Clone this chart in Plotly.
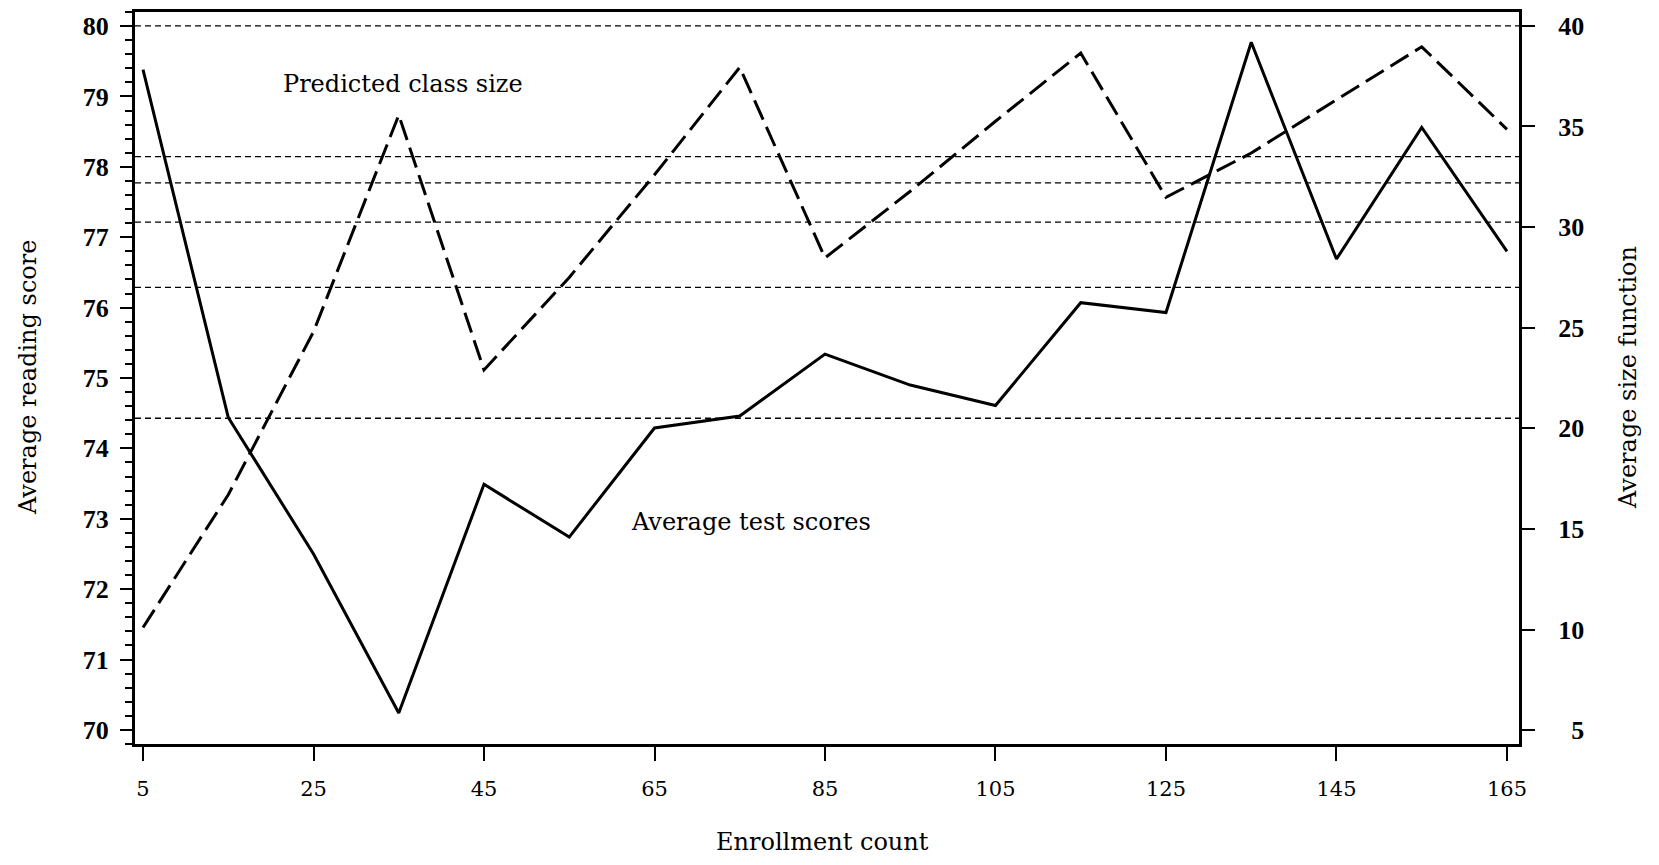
import plotly.graph_objects as go

# Data
enrollment = [5, 15, 25, 35, 45, 55, 65, 75, 85, 95, 105, 115, 125, 135, 145, 155, 165]
avg_test_scores = [79.38, 74.44, 72.5, 70.24, 73.49, 72.74, 74.29, 74.46, 75.34,
                   74.9, 74.61, 76.07, 75.93, 79.77, 76.69, 78.56, 76.8]
predicted_class_size = [10.1, 16.7, 24.8, 35.57, 22.9, 27.5, 32.6, 37.94, 28.47,
                        31.78, 35.26, 38.65, 31.48, 33.68, 36.33, 38.96, 34.86]
# horizontal dashed reference lines (right-axis units)
reference_lines = [40, 33.5, 32.2, 30.25, 27.0, 20.5]

x_ticks = [5, 25, 45, 65, 85, 105, 125, 145, 165]
left_ticks = [70, 71, 72, 73, 74, 75, 76, 77, 78, 79, 80]
right_ticks = [5, 10, 15, 20, 25, 30, 35, 40]
right_ticktext = ["\u2007" + str(v) if v < 10 else str(v) for v in right_ticks]

FONT = "DejaVu Serif"
TFONT = "Liberation Serif"

fig = go.Figure()

fig.add_trace(go.Scatter(
    x=enrollment, y=avg_test_scores, mode="lines", name="Average test scores",
    line=dict(color="black", width=3), yaxis="y", showlegend=False,
))
fig.add_trace(go.Scatter(
    x=enrollment, y=predicted_class_size, mode="lines", name="Predicted class size",
    line=dict(color="black", width=3, dash="21px,8px"), yaxis="y2", showlegend=False,
))

for v in reference_lines:
    fig.add_shape(type="line", xref="paper", x0=0, x1=1, yref="y2", y0=v, y1=v,
                  line=dict(color="black", width=1.3, dash="6px,4px"), layer="below")

fig.update_layout(
    width=1643, height=849, autosize=False,
    margin=dict(l=127, r=132, t=1, b=113),
    paper_bgcolor="white", plot_bgcolor="white",
    font=dict(family=FONT, color="black"),
    xaxis=dict(
        range=[4.06, 166.41], tickvals=x_ticks, ticks="outside", ticklen=14, tickwidth=2,
        tickcolor="black", showline=True, linewidth=3, linecolor="black", mirror=True,
        showgrid=False, zeroline=False, tickfont=dict(family=FONT, size=21),
        ticklabelstandoff=10,
    ),
    yaxis=dict(
        range=[69.80, 80.2], tickvals=left_ticks, ticks="outside", ticklen=12, tickwidth=2,
        tickcolor="black", showline=True, linewidth=3, linecolor="black", mirror=True,
        showgrid=False, zeroline=False,
        tickfont=dict(family=TFONT, size=26, weight="bold"), ticklabelstandoff=6,
        minor=dict(dtick=0.2, ticks="outside", ticklen=7, tickwidth=2, tickcolor="black",
                   showgrid=False),
    ),
    yaxis2=dict(
        range=[4.31, 40.69], overlaying="y", side="right", tickvals=right_ticks,
        ticktext=right_ticktext, ticks="outside", ticklen=13, tickwidth=2, tickcolor="black",
        showline=True, linewidth=3, linecolor="black", showgrid=False, zeroline=False,
        tickfont=dict(family=TFONT, size=26, weight="bold"), ticklabelstandoff=18,
    ),
    annotations=[
        dict(text="Average reading score", xref="paper", yref="paper", x=0, y=0.5,
             xshift=-107, textangle=-90, showarrow=False,
             font=dict(family=FONT, size=24), xanchor="center", yanchor="middle"),
        dict(text="Average size function", xref="paper", yref="paper", x=1, y=0.5,
             xshift=109, textangle=-90, showarrow=False,
             font=dict(family=FONT, size=24), xanchor="center", yanchor="middle"),
        dict(text="Enrollment count", xref="paper", yref="paper", x=0.497, y=0,
             yshift=-98, showarrow=False,
             font=dict(family=FONT, size=24), xanchor="center", yanchor="middle"),
        dict(text="Predicted class size", xref="x", yref="y", x=35.5, y=79.18,
             showarrow=False, font=dict(family=FONT, size=24),
             xanchor="center", yanchor="middle"),
        dict(text="Average test scores", xref="x", yref="y", x=76.3, y=72.95,
             showarrow=False, font=dict(family=FONT, size=24),
             xanchor="center", yanchor="middle"),
    ],
)

fig.write_html("out.html")
